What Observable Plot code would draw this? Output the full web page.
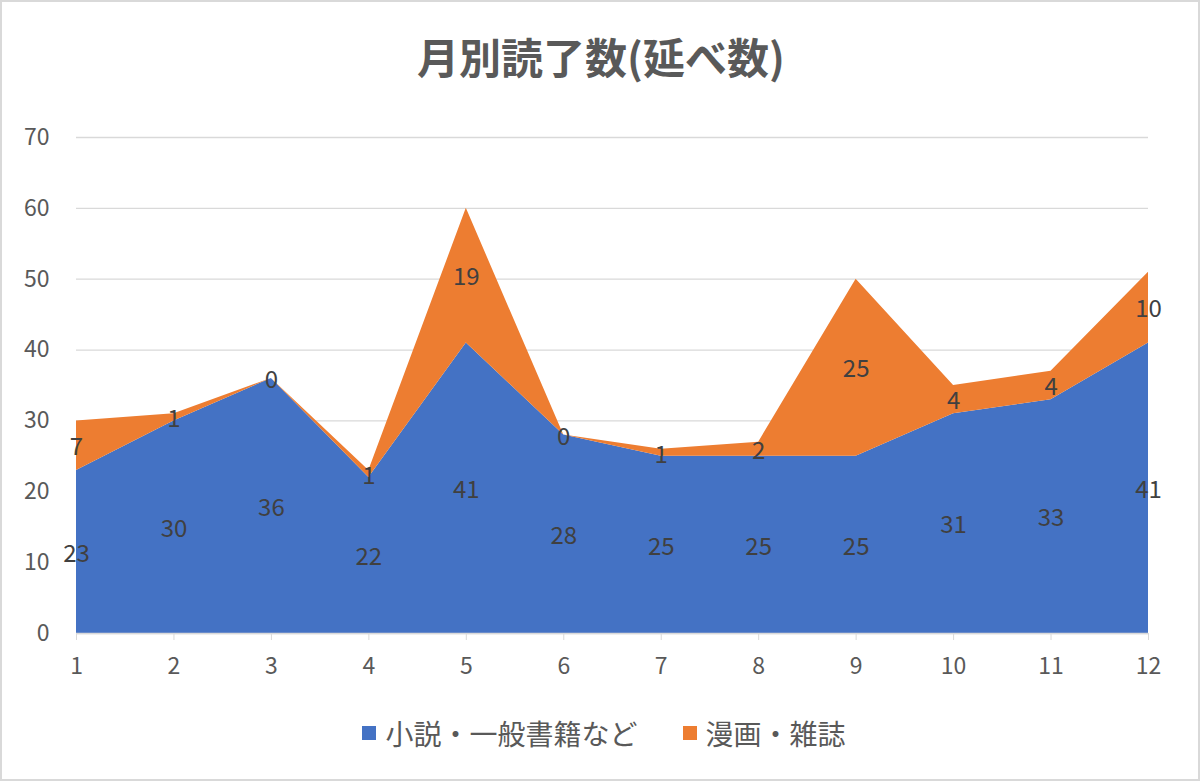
<!DOCTYPE html>
<html><head><meta charset="utf-8">
<script src="https://cdn.jsdelivr.net/npm/d3@7"></script>
<script src="https://cdn.jsdelivr.net/npm/@observablehq/plot@0.6"></script>
<style>
html,body{margin:0;padding:0;background:#fff;}
#wrap{position:relative;width:1200px;height:781px;box-sizing:border-box;border:2px solid #d9d9d9;background:#fff;overflow:hidden;font-family:"Noto Sans CJK JP","Noto Sans",sans-serif;}
#title{height:98px;box-sizing:border-box;padding-top:31px;padding-left:2px;text-align:center;font-size:42px;line-height:46px;font-weight:bold;color:#595959;}
#chart svg{display:block;}
#legend{display:flex;justify-content:center;align-items:center;gap:45px;padding-top:17px;padding-left:8px;font-size:28px;line-height:32px;color:#595959;}
.item{display:flex;align-items:center;}
.sw{width:14px;height:14px;margin-right:9px;}
</style></head>
<body>
<div id="wrap">
  <div id="title">月別読了数(延べ数)</div>
  <div id="chart"></div>
  <div id="legend"></div>
</div>
<script>
const months = [1,2,3,4,5,6,7,8,9,10,11,12];
const seriesNames = ["小説・一般書籍など", "漫画・雑誌"];
const novels = [23,30,36,22,41,28,25,25,25,31,33,41];
const manga = [7,1,0,1,19,0,1,2,25,4,4,10];
const colors = ["#4472C4", "#ED7D31"];
const yTicks = [0,10,20,30,40,50,60,70];

const data = [];
months.forEach((m,i)=>data.push({month:m, series:seriesNames[0], value:novels[i]}));
months.forEach((m,i)=>data.push({month:m, series:seriesNames[1], value:manga[i]}));

const plot = Plot.plot({
  width: 1196,
  height: 600,
  marginLeft: 74,
  marginRight: 50,
  marginTop: 37,
  marginBottom: 67,
  style: {fontFamily: '"Noto Sans CJK JP","Noto Sans",sans-serif', fontSize: "23px", color: "#595959", background: "#fff"},
  x: {type: "linear", domain: [1,12], ticks: months, tickFormat: d=>String(d), tickSize: 7, tickPadding: 18, label: null},
  y: {domain: [0,70], ticks: yTicks, tickSize: 0, tickPadding: 27, label: null},
  color: {domain: seriesNames, range: colors},
  marks: [
    Plot.gridY(yTicks, {stroke: "#d9d9d9", strokeOpacity: 1, strokeWidth: 1.3}),
    Plot.areaY(data, {x: "month", y: "value", z: "series", fill: "series", order: seriesNames}),
    Plot.ruleY([0], {stroke: "#d9d9d9", strokeWidth: 1.5}),
    Plot.axisX({ticks: months, tickSize: 7, tickPadding: 17, stroke: "#d9d9d9", fill: "#595959", fontSize: 23, tickFormat: d=>String(d), label: null}),
    Plot.axisY({ticks: yTicks, tickSize: 0, tickPadding: 27, fill: "#595959", fontSize: 23, label: null}),
    Plot.text(data, Plot.stackY({x: "month", y: "value", z: "series", order: seriesNames, text: d=>String(d.value), fill: "#404040", fontSize: 24, dy: 2}))
  ]
});
document.getElementById("chart").appendChild(plot);

const legend = document.getElementById("legend");
seriesNames.forEach((n,i)=>{
  const it = document.createElement("div"); it.className="item";
  const sw = document.createElement("div"); sw.className="sw"; sw.style.background=colors[i];
  const tx = document.createElement("span"); tx.textContent=n;
  it.appendChild(sw); it.appendChild(tx); legend.appendChild(it);
});
</script>
</body></html>
